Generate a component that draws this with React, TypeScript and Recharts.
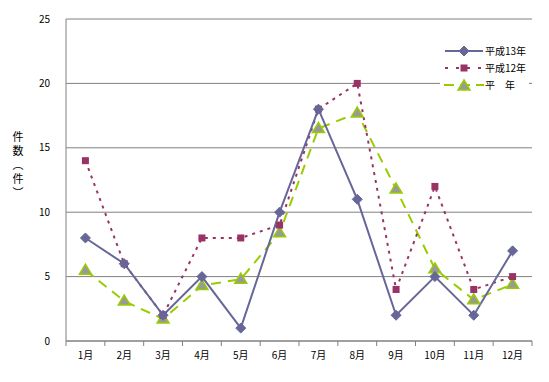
import React from 'react';
import {
  LineChart,
  Line,
  XAxis,
  YAxis,
  CartesianGrid,
  Legend,
  Label
} from 'recharts';

const months = ['1月', '2月', '3月', '4月', '5月', '6月', '7月', '8月', '9月', '10月', '11月', '12月'];
const h13 = [8, 6, 2, 5, 1, 10, 18, 11, 2, 5, 2, 7];
const h12 = [14, 6, 2, 8, 8, 9, 18, 20, 4, 12, 4, 5];
const heinen = [5.5, 3.1, 1.7, 4.3, 4.8, 8.4, 16.5, 17.7, 11.8, 5.6, 3.2, 4.4];
const yTicks = [0, 5, 10, 15, 20, 25];

const data = months.map((m, i) => ({ month: m, h13: h13[i], h12: h12[i], heinen: heinen[i] }));

const W = 549;
const H = 382;
const M = { top: 19, right: 17, left: 0, bottom: 0 };
const Y_W = 66;
const BW = (W - Y_W - M.right) / months.length;
const FONT = '"Noto Sans CJK JP", "DejaVu Sans", sans-serif';

const BLUE = '#666699';
const PLUM = '#993366';
const GREEN = '#99CC00';
const GRAY = '#999999';

const Diamond = ({ cx, cy, r = 5 }: any) => (
  <path d={`M${cx},${cy - r} L${cx + r},${cy} L${cx},${cy + r} L${cx - r},${cy} Z`} fill={BLUE} stroke={BLUE} strokeWidth={1} />
);
const Square = ({ cx, cy, s = 7 }: any) => (
  <rect x={cx - s / 2} y={cy - s / 2} width={s} height={s} fill={PLUM} />
);
const Tri = ({ cx, cy }: any) => (
  <path d={`M${cx},${cy - 6} L${cx + 6},${cy + 4} L${cx - 6},${cy + 4} Z`} fill={GRAY} stroke={GREEN} strokeWidth={1.5} />
);

const XTick = ({ x, y, payload }: any) => {
  const idx = months.indexOf(payload.value);
  return (
    <g>
      <line x1={x - BW / 2} x2={x - BW / 2} y1={y - 8} y2={y - 3} stroke="#808080" />
      {idx === months.length - 1 && (
        <line x1={x + BW / 2} x2={x + BW / 2} y1={y - 8} y2={y - 3} stroke="#808080" />
      )}
      <text x={x} y={y + 10} textAnchor="middle" fontSize={10} fontFamily={FONT} fill="#000">
        {payload.value}
      </text>
    </g>
  );
};

const legendItems = [
  { name: '平成13年', kind: 'h13' },
  { name: '平成12年', kind: 'h12' },
  { name: '平　年', kind: 'heinen' }
];

const LegendContent = () => (
  <div style={{ background: '#fff', padding: '3px 0 3px 4px', fontFamily: FONT, fontSize: 10, color: '#000' }}>
    {legendItems.map((it) => (
      <div key={it.kind} style={{ display: 'flex', alignItems: 'center', height: 17 }}>
        <svg width={40} height={14}>
          {it.kind === 'h13' && (
            <>
              <line x1={1} x2={39} y1={7} y2={7} stroke={BLUE} strokeWidth={2} />
              <Diamond cx={20} cy={7} r={5} />
            </>
          )}
          {it.kind === 'h12' && (
            <>
              <line x1={1} x2={39} y1={7} y2={7} stroke={PLUM} strokeWidth={2} strokeDasharray="3 8" />
              <Square cx={20} cy={7} />
            </>
          )}
          {it.kind === 'heinen' && (
            <>
              <line x1={0} x2={40} y1={7} y2={7} stroke={GREEN} strokeWidth={2} strokeDasharray="10 6" />
              <Tri cx={20} cy={8} />
            </>
          )}
        </svg>
        <span style={{ marginLeft: 1 }}>{it.name}</span>
      </div>
    ))}
  </div>
);

const YLabel = ({ viewBox }: any) => (
  <text
    x={18}
    y={131}
    fontSize={11}
    fontFamily={FONT}
    fill="#000"
    style={{ writingMode: 'vertical-rl', letterSpacing: 3 } as any}
  >
    件数（件）
  </text>
);

export default function App() {
  return (
    <div style={{ position: 'absolute', left: 0, top: 0, width: W, height: H, background: '#fff' }}>
      <LineChart width={W} height={H} data={data} margin={M}>
        <CartesianGrid horizontal vertical={false} stroke="#808080" />
        <XAxis
          dataKey="month"
          height={41}
          padding={{ left: BW / 2, right: BW / 2 }}
          stroke="#808080"
          tickLine={false}
          tick={<XTick />}
          interval={0}
        />
        <YAxis
          width={Y_W}
          domain={[0, 25]}
          ticks={yTicks}
          interval={0}
          stroke="#808080"
          tickLine={false}
          tickMargin={10}
          tick={{ fontSize: 10, fontFamily: FONT, fill: '#000' }}
        >
          <Label content={<YLabel />} />
        </YAxis>
        <Legend
          layout="vertical"
          align="center"
          verticalAlign="middle"
          wrapperStyle={{ left: 440, top: 39, width: 89 }}
          content={<LegendContent />}
        />
        <Line
          dataKey="heinen"
          stroke={GREEN}
          strokeWidth={2}
          strokeDasharray="10 7"
          dot={(p: any) => <Tri key={`t${p.index}`} cx={p.cx} cy={p.cy} />}
          isAnimationActive={false}
        />
        <Line
          dataKey="h12"
          stroke={PLUM}
          strokeWidth={2}
          strokeDasharray="3 5"
          dot={(p: any) => <Square key={`s${p.index}`} cx={p.cx} cy={p.cy} />}
          isAnimationActive={false}
        />
        <Line
          dataKey="h13"
          stroke={BLUE}
          strokeWidth={2}
          dot={(p: any) => <Diamond key={`d${p.index}`} cx={p.cx} cy={p.cy} />}
          isAnimationActive={false}
        />
      </LineChart>
    </div>
  );
}
